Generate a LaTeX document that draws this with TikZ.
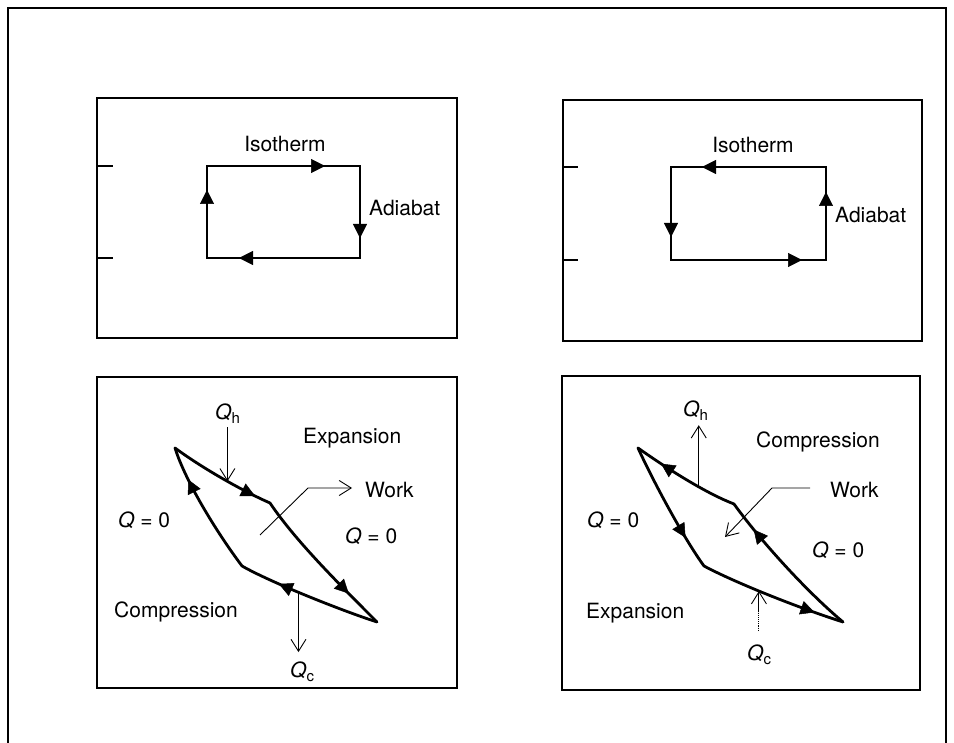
\documentclass[tikz,border=0pt]{standalone}
\usepackage{fontspec}
\setmainfont{TeX Gyre Heros}
\usetikzlibrary{arrows.meta,decorations.markings}
\newcommand\Qsub[1]{\textit{Q}\raisebox{-4pt}{\fontsize{15}{15}\selectfont #1}}
\begin{document}
\begin{tikzpicture}[x=1pt,y=-1pt,
  frame/.style={line width=1.8pt},
  panel/.style={line width=1.3pt},
  cyc/.style={line width=2.8pt, line join=round, line cap=round},
  thinline/.style={line width=0.9pt},
  openarrow/.style={thinline, -{Straight Barb[length=12pt,width=15pt,line width=0.9pt]}},
  lbl/.style={inner sep=0pt, font=\fontsize{21}{25}\selectfont},
  cyctip/.tip={Triangle[length=14pt,width=14pt,line width=0.5pt]},
  tipat/.style={decoration={markings, mark=at position #1 with {\arrow{cyctip}}}, postaction=decorate},
]
\useasboundingbox (0,0) rectangle (954,743);
% outer frame
\draw[frame] (8,743) -- (8,8) -- (946,8) -- (946,743);

% ---------- top left panel ----------
\draw[panel] (97,98) rectangle (457,338);
\draw[panel] (97,166) -- (113,166);
\draw[panel] (97,258) -- (113,258);
\draw[cyc, line join=miter, line cap=rect,
  decoration={markings,
    mark=at position 68pt with {\arrow{cyctip}},
    mark=at position 210pt with {\arrow{cyctip}},
    mark=at position 317pt with {\arrow{cyctip}},
    mark=at position 458pt with {\arrow{cyctip}}},
  postaction=decorate]
  (207,258) -- (207,166) -- (360,166) -- (360,258) -- cycle;
\node[lbl, anchor=base] (isoL) at (285,152) {Isotherm};
\node[lbl, anchor=base west] (adL) at (369,216) {Adiabat};

% ---------- top right panel ----------
\draw[panel] (563,100) rectangle (922,341);
\draw[panel] (563,167) -- (578,167);
\draw[panel] (563,260) -- (578,260);
\draw[cyc, line join=miter, line cap=rect,
  decoration={markings,
    mark=at position 68pt with {\arrow{cyctip}},
    mark=at position 217pt with {\arrow{cyctip}},
    mark=at position 318pt with {\arrow{cyctip}},
    mark=at position 472pt with {\arrow{cyctip}}},
  postaction=decorate]
  (826,260) -- (826,167) -- (671,167) -- (671,260) -- cycle;
\node[lbl, anchor=base] (isoR) at (753,153) {Isotherm};
\node[lbl, anchor=base west] (adR) at (835,223) {Adiabat};

% ---------- bottom left panel ----------
\draw[panel] (97,377) rectangle (457,688);
\coordinate (A) at (175,448);
\coordinate (B) at (270,503);
\coordinate (C) at (377,622);
\coordinate (D) at (242,566);
\draw[cyc, tipat=0.85] (A) .. controls (205,470) and (245,492) .. (B) coordinate[pos=0.53] (qhL);
\draw[cyc, tipat=0.75] (B) .. controls (295,540) and (335,580) .. (C);
\draw[cyc, tipat=0.72] (C) .. controls (340,610) and (270,582) .. (D) coordinate[pos=0.55] (qcL);
\draw[cyc, tipat=0.75] (D) .. controls (215,530) and (185,480) .. (A);

\node[lbl, anchor=base west] (QhL) at (215,420) {\Qsub{h}};
\node[lbl, anchor=base west] (ExpL) at (303,444) {Expansion};
\node[lbl, anchor=base west] (WorkL) at (365,497) {Work};
\node[lbl, anchor=base west] (Q0aL) at (118,527) {\textit{Q} = 0};
\node[lbl, anchor=base west] (Q0bL) at (345,543) {\textit{Q} = 0};
\node[lbl, anchor=base west] (CompL) at (114,617) {Compression};
\node[lbl, anchor=base west] (QcL) at (290,677) {\Qsub{c}};

\draw[openarrow] ([yshift=-3pt]QhL.south -| qhL) -- (qhL);
\draw[openarrow] (qcL) -- ([yshift=9pt]QcL.north -| qcL);
\coordinate (wL0) at (260,535);
\coordinate (wL1) at (308,488);
\coordinate (wL2) at (352,488);
\draw[openarrow] (wL0) -- (wL1) -- (wL2);

% ---------- bottom right panel ----------
\draw[panel] (562,376) rectangle (920,690);
\coordinate (A2) at (638,448);
\coordinate (B2) at (734,504);
\coordinate (C2) at (843,622);
\coordinate (D2) at (704,566);
\draw[cyc, tipat=0.75] (B2) .. controls (708,494) and (672,472) .. (A2) coordinate[pos=0.4] (qhR);
\draw[cyc, tipat=0.8] (C2) .. controls (805,590) and (760,540) .. (B2);
\draw[cyc, tipat=0.8] (D2) .. controls (730,580) and (790,605) .. (C2) coordinate[pos=0.47] (qcR);
\draw[cyc, tipat=0.75] (A2) .. controls (655,485) and (685,540) .. (D2);

\node[lbl, anchor=base west] (QhR) at (683,417) {\Qsub{h}};
\node[lbl, anchor=base west] (CompR) at (756,447) {Compression};
\node[lbl, anchor=base west] (WorkR) at (830,497) {Work};
\node[lbl, anchor=base west] (Q0aR) at (587,527) {\textit{Q} = 0};
\node[lbl, anchor=base west] (Q0bR) at (812,557) {\textit{Q} = 0};
\node[lbl, anchor=base west] (ExpR) at (586,618) {Expansion};
\node[lbl, anchor=base west] (QcR) at (747,660) {\Qsub{c}};

\draw[openarrow] (qhR) -- ([yshift=-4pt]QhR.south -| qhR);
\draw[thinline, densely dotted] ([yshift=13pt]QcR.north -| qcR) -- ([yshift=32pt]QcR.north -| qcR);
\draw[openarrow] ([yshift=32pt]QcR.north -| qcR) -- (qcR);
\coordinate (wR0) at (810,488);
\coordinate (wR1) at (772,488);
\coordinate (wR2) at (725,537);
\draw[openarrow] (wR0) -- (wR1) -- (wR2);
\end{tikzpicture}
\end{document}
